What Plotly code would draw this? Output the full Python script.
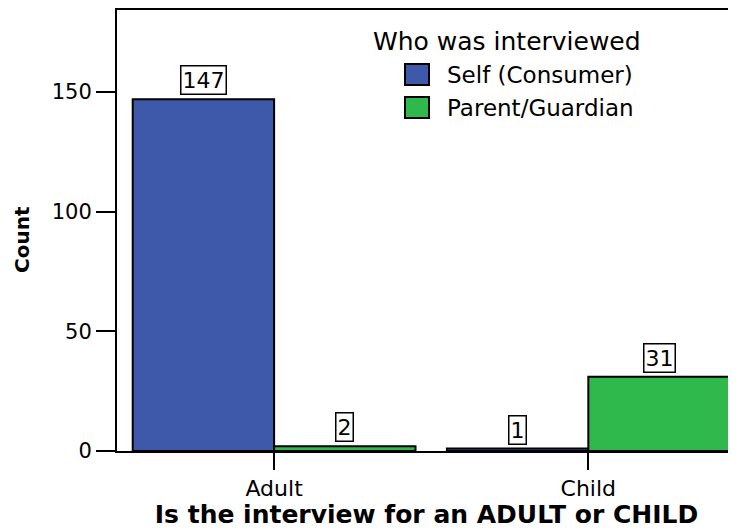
import plotly.graph_objects as go

categories = ["Adult", "Child"]
series_names = ["Self (Consumer)", "Parent/Guardian"]
self_counts = [147, 1]
parent_counts = [2, 31]
legend_title = "Who was interviewed"
x_title = "Is the interview for an ADULT or CHILD"
y_title = "Count"
y_ticks = [0, 50, 100, 150]

colors = ["#3E58AA", "#2FB84B"]
FONT = "DejaVu Sans"

fig = go.Figure()
for name, vals, col in zip(series_names, [self_counts, parent_counts], colors):
    fig.add_trace(go.Bar(
        x=categories, y=vals, name=name,
        marker=dict(color=col, line=dict(color="black", width=2)),
        showlegend=False,
    ))

# value labels in boxes
offsets = [-0.225, 0.225]
annotations = []
for s, vals in enumerate([self_counts, parent_counts]):
    for i, v in enumerate(vals):
        annotations.append(dict(
            x=i + offsets[s], y=v, xref="x", yref="y",
            text=str(v), showarrow=False, yanchor="bottom", yshift=4,
            font=dict(family=FONT, size=22, color="black"),
            bgcolor="white", bordercolor="black", borderwidth=1.5, borderpad=1,
        ))

# manual legend (page pixel positions -> paper coords of plot area)
L, B, W, H = 117, 451, 619, 441
def px(x):
    return (x - L) / W
def py(y):
    return (B - y) / H

annotations.append(dict(
    x=px(371), y=py(41), xref="paper", yref="paper", text=legend_title,
    showarrow=False, xanchor="left", yanchor="middle",
    font=dict(family=FONT, size=25, color="black")))
shapes = []
for k, (name, col) in enumerate(zip(series_names, colors)):
    top = 64 + 33 * k
    shapes.append(dict(type="rect", xref="paper", yref="paper",
                       x0=px(405), x1=px(429), y0=py(top + 21), y1=py(top),
                       fillcolor=col, line=dict(color="black", width=2)))
    annotations.append(dict(
        x=px(445), y=py(top + 11), xref="paper", yref="paper", text=name,
        showarrow=False, xanchor="left", yanchor="middle",
        font=dict(family=FONT, size=23, color="black")))

# y-axis title as rotated annotation
annotations.append(dict(
    x=px(22), y=py(240), xref="paper", yref="paper", text="<b>" + y_title + "</b>",
    showarrow=False, textangle=-90, xanchor="center", yanchor="middle",
    font=dict(family=FONT, size=20, color="black")))

# the page body adds an 8px offset, so the figure is 8px smaller
fig.update_layout(
    width=728, height=521,
    margin=dict(l=109, r=0, t=2, b=78),
    paper_bgcolor="white", plot_bgcolor="white",
    barmode="group", bargap=0.1, bargroupgap=0,
    annotations=annotations, shapes=shapes,
    font=dict(family=FONT, color="black"),
)
fig.update_xaxes(
    type="category", range=[-0.5, 1.47],
    showline=True, linecolor="black", linewidth=2, mirror=True,
    ticks="outside", ticklen=17, tickwidth=2, tickcolor="black",
    tickfont=dict(family=FONT, size=22, color="black"),
    showgrid=False,
    title=dict(text="<b>" + x_title + "</b>", font=dict(family=FONT, size=25, color="black"), standoff=3),
)
fig.update_yaxes(
    range=[0, 184.3], tickvals=y_ticks,
    showline=True, linecolor="black", linewidth=2,
    ticks="outside", ticklen=19, tickwidth=2, tickcolor="black",
    tickfont=dict(family=FONT, size=21, color="black"),
    showgrid=False, zeroline=False,
)

fig.write_html("out.html")
